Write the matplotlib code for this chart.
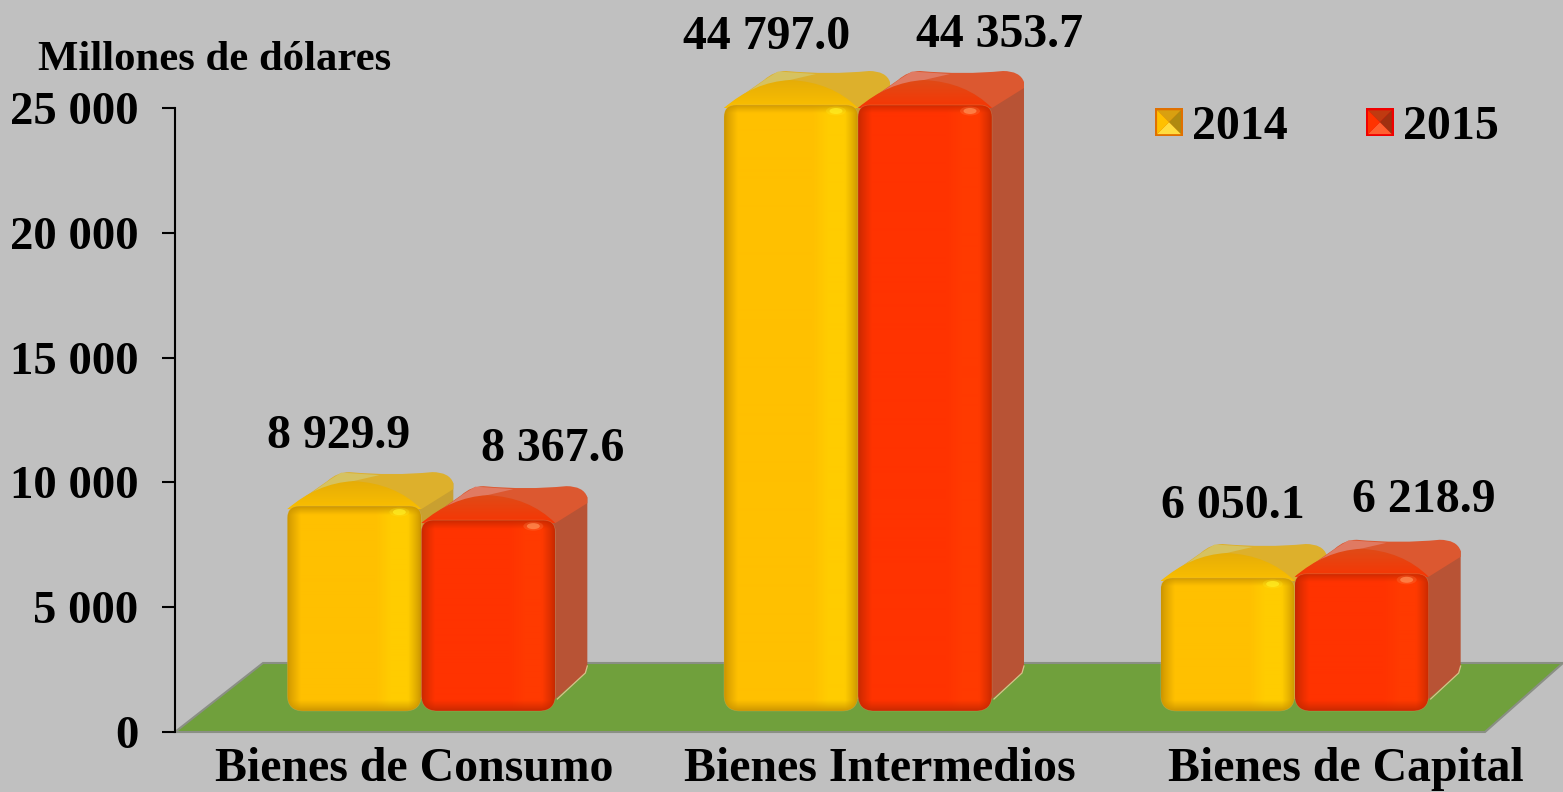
import numpy as np
import matplotlib
matplotlib.use("Agg")
import matplotlib.pyplot as plt
from matplotlib.path import Path
from matplotlib.patches import PathPatch, Polygon, Ellipse
from matplotlib.legend_handler import HandlerBase
from matplotlib.transforms import Affine2D

# ---------- data ----------
categories = ["Bienes de Consumo", "Bienes Intermedios", "Bienes de Capital"]
series_names = ["2014", "2015"]
values_2014 = [8929.9, 44797.0, 6050.1]
values_2015 = [8367.6, 44353.7, 6218.9]
labels_2014 = ["8 929.9", "44 797.0", "6 050.1"]
labels_2015 = ["8 367.6", "44 353.7", "6 218.9"]
y_ticks = [0, 5000, 10000, 15000, 20000, 25000]
y_tick_labels = ["0", "5 000", "10 000", "15 000", "20 000", "25 000"]
y_title = "Millones de dólares"
y_max = 25000

# ---------- style ----------
W, H = 1563, 792
AX_L, AX_R, AX_T, AX_B = 175, 1485, 108, 732
BG = "#C0C0C0"
FLOOR = "#70A03C"
SERIF = "Liberation Serif"
PAL_Y = dict(base=(255, 192, 0), edge=(200, 146, 0), band=(255, 204, 0),
             front_hi=(228, 172, 8), front_lo=(250, 190, 0), left="#D6C260",
             right="#DDB02C", side="#C9A030", shine="#FFEA20")
PAL_R = dict(base=(255, 51, 0), edge=(196, 40, 0), band=(255, 58, 0),
             front_hi=(222, 76, 24), front_lo=(246, 54, 4), left="#E07A62",
             right="#DC5830", side="#B85335", shine="#FF8A50")
label_centers_2014 = [(339, 436), (767, 37), (1233, 506)]
label_centers_2015 = [(553, 449), (1000, 35), (1424, 500)]
cat_label_shift_px = [21, 50, 79]

plt.rcParams["font.family"] = SERIF
plt.rcParams["font.weight"] = "bold"
fig = plt.figure(figsize=(W / 100, H / 100), dpi=100, facecolor=BG)
ax = fig.add_axes([AX_L / W, 1 - AX_B / H, (AX_R - AX_L) / W, (AX_B - AX_T) / H],
                  facecolor="none")
ax.set_xlim(-0.5, 2.5)
ax.set_ylim(0, y_max)
ux = 3.0 / (AX_R - AX_L)          # data units per pixel
uy = y_max / (AX_B - AX_T)
px = Affine2D().scale(1, -1).translate(0, H)  # top-left pixel coords


def rounded(x0, x1, y0, y1, rt, rb):
    xs = [(x0 + rt * ux, y1), (x1 - rt * ux, y1), (x1, y1), (x1, y1 - rt * uy),
          (x1, y0 + rb * uy), (x1, y0), (x1 - rb * ux, y0), (x0 + rb * ux, y0),
          (x0, y0), (x0, y0 + rb * uy), (x0, y1 - rt * uy), (x0, y1),
          (x0 + rt * ux, y1)]
    codes = [Path.MOVETO, Path.LINETO, Path.CURVE3, Path.CURVE3, Path.LINETO,
             Path.CURVE3, Path.CURVE3, Path.LINETO, Path.CURVE3, Path.CURVE3,
             Path.LINETO, Path.CURVE3, Path.CURVE3]
    return Path(xs, codes)


def shade_image(wpx, hpx, pal):
    wpx, hpx = int(wpx), int(hpx)
    xs = np.arange(wpx) + 0.5
    ys = np.arange(hpx) + 0.5
    fx = np.clip(xs / 14, 0, 1) * np.clip((wpx - xs) / 13, 0, 1)
    fy = np.clip(ys / 9, 0, 1) * np.clip((hpx - ys) / 11, 0, 1)
    m = np.outer(fy, fx) ** 0.8
    base = np.array(pal["base"], float)
    band = np.array(pal["band"], float)
    edge = np.array(pal["edge"], float)
    t = np.clip((xs - (wpx - 45)) / 15, 0, 1)[None, :, None]
    col = base * (1 - t) + band * t
    img = edge * (1 - m[..., None]) + col * m[..., None]
    return (img / 255).clip(0, 1)


def draw_bar(x0, value, pal, width, z):
    top = min(value, y_max)
    bottom = 21 * uy
    x1 = x0 + width
    wpx = width / ux

    def rel(a, b):
        return (x0 + a * ux, top + b * uy)

    # side face
    side = [(x1 - 4 * ux, top), (x1 + 32 * ux, top + 26 * uy), (x1 + 32 * ux, bottom + 45 * uy),
            (x1 + 30 * ux, bottom + 38 * uy), (x1, bottom + 12 * uy), (x1 - 4 * ux, bottom + 12 * uy)]
    ax.add_patch(Polygon(side, closed=True, fc=pal["side"], ec="none",
                         zorder=z, clip_on=False))
    ax.plot([x1 + 32 * ux, x1 + 30 * ux, x1 + 2 * ux],
            [bottom + 45 * uy, bottom + 38 * uy, bottom + 12 * uy],
            color="#D8C08A", lw=0.9, zorder=z, clip_on=False)
    # top face outline
    verts = [rel(0, 0), rel(40, 28), rel(50, 37), rel(62, 37), rel(105, 33),
             rel(145, 37), rel(162, 37), rel(166, 26), rel(166, 20), rel(134, 0),
             rel(0, 0)]
    codes = [Path.MOVETO, Path.LINETO, Path.CURVE3, Path.CURVE3, Path.CURVE3,
             Path.CURVE3, Path.CURVE3, Path.CURVE3, Path.LINETO, Path.LINETO,
             Path.CLOSEPOLY]
    ax.add_patch(PathPatch(Path(verts, codes), fc=pal["right"], ec="none",
                           zorder=z + 0.1, clip_on=False))
    ax.add_patch(Polygon([rel(3, 1), rel(42, 29), rel(54, 36.5), rel(92, 34), rel(66, 28)],
                         closed=True, fc=pal["left"], ec="none", zorder=z + 0.15, clip_on=False))
    # curved front facet with a vertical shade
    facet = Path([rel(0, 0), rel(30, 26), rel(66, 28), rel(108, 26), rel(134, 0), rel(0, 0)],
                 [Path.MOVETO, Path.CURVE3, Path.CURVE3, Path.CURVE3, Path.CURVE3, Path.CLOSEPOLY])
    grad = np.linspace(0, 1, 30)[:, None, None]
    arr = np.array(pal["front_hi"], float) * (1 - grad) + np.array(pal["front_lo"], float) * grad
    fim = ax.imshow(arr / 255, extent=(x0, x1, top, top + 30 * uy), origin="upper",
                    aspect="auto", zorder=z + 0.2, interpolation="bilinear")
    fclip = PathPatch(facet, transform=ax.transData, fc="none", ec="none")
    ax.add_patch(fclip)
    fclip.set_clip_on(False)
    fim.set_clip_path(fclip)
    fim.set_clip_box(fig.bbox)
    # rounded front face with shaded fill
    path = rounded(x0, x1, bottom, top + 3 * uy, 12, 16)
    hpx = (top + 3 * uy - bottom) / uy
    im = ax.imshow(shade_image(wpx, hpx, pal), extent=(x0, x1, bottom, top + 3 * uy),
                   origin="upper", aspect="auto", zorder=z + 0.3,
                   interpolation="bilinear")
    clip = PathPatch(path, transform=ax.transData, fc="none", ec="none")
    ax.add_patch(clip)
    clip.set_clip_on(False)
    im.set_clip_path(clip)
    im.set_clip_box(fig.bbox)
    ax.add_patch(PathPatch(path, fc="none", ec="#D8C08A", lw=0.5, alpha=0.3,
                           zorder=z + 0.4, clip_on=False))
    ax.add_patch(Ellipse(rel(wpx - 22, -3), 20 * ux, 9 * uy, fc=pal["shine"], ec="none",
                         alpha=0.25, zorder=z + 0.5, clip_on=False))
    ax.add_patch(Ellipse(rel(wpx - 22, -3), 13 * ux, 6 * uy, fc=pal["shine"], ec="none",
                         alpha=0.8, zorder=z + 0.55, clip_on=False))


# floor
floor_px = [(AX_L, AX_B), (AX_R, AX_B), (1563, 663), (263, 663)]
fig.add_artist(Polygon(floor_px, closed=True, fc=FLOOR, ec="#8A8F84", lw=1.5,
                       transform=px, zorder=-1))

# bars
bar_w = 134 * ux
group_shift = 28 * ux
for i in range(len(categories)):
    left = i + group_shift - bar_w
    draw_bar(left, values_2014[i], PAL_Y, bar_w, 2 + i * 3)
    draw_bar(left + bar_w, values_2015[i], PAL_R, bar_w, 3.5 + i * 3)
ax.set_xlim(-0.5, 2.5)
ax.set_ylim(0, y_max)

# axes
for s in ("top", "right", "bottom"):
    ax.spines[s].set_visible(False)
ax.spines["left"].set_linewidth(1.5)
ax.spines["left"].set_color("#000000")
ax.spines["left"].set_zorder(30)
ax.set_yticks(y_ticks)
ax.set_yticklabels(y_tick_labels, fontsize=33.7, fontweight="bold", family=SERIF)
ax.tick_params(axis="y", length=9.5, width=1.5, pad=17, color="black")
ax.set_xticks([i + s * ux for i, s in enumerate(cat_label_shift_px)])
ax.set_xticklabels(categories, fontsize=34.4, fontweight="bold", family=SERIF)
ax.tick_params(axis="x", length=0, pad=11)

# value labels and title (pixel positions)
for (cx, cy), t in zip(label_centers_2014 + label_centers_2015, labels_2014 + labels_2015):
    fig.text(cx / W, 1 - cy / H, t, ha="center", va="center", fontsize=34.4,
             fontweight="bold", family=SERIF)
fig.text(38 / W, 1 - 60 / H, y_title, ha="left", va="center", fontsize=30.8,
         fontweight="bold", family=SERIF)


# legend
class Pyramid:
    def __init__(self, border, t, l, b, r):
        self.colors = (border, t, l, b, r)


class PyramidHandler(HandlerBase):
    def create_artists(self, legend, orig, xd, yd, width, height, fontsize, trans):
        border, t, l, b, r = orig.colors
        s = width
        x0, y0 = -xd, -yd + (height - s) / 2
        x1, y1 = x0 + s, y0 + s
        i = 1.5
        c = (x0 + s / 2, y0 + s / 2)
        out = [Polygon([(x0, y0), (x1, y0), (x1, y1), (x0, y1)], fc=border, ec="none", transform=trans)]
        for col, p, q in ((t, (x0 + i, y1 - i), (x1 - i, y1 - i)), (r, (x1 - i, y1 - i), (x1 - i, y0 + i)),
                          (b, (x1 - i, y0 + i), (x0 + i, y0 + i)), (l, (x0 + i, y0 + i), (x0 + i, y1 - i))):
            out.append(Polygon([p, q, c], fc=col, ec="none", transform=trans))
        return out


handles = [Pyramid("#E07000", "#D9A010", "#FFC000", "#FFDC40", "#B08A10"),
           Pyramid("#F00000", "#C03A10", "#FF3300", "#FF6030", "#A03010")]
leg = fig.legend(handles, series_names, handler_map={Pyramid: PyramidHandler()}, ncol=2,
                 frameon=False, loc="center left", bbox_to_anchor=(1155 / W, 1 - 127 / H),
                 prop={"family": SERIF, "weight": "bold", "size": 34.5}, borderpad=0,
                 borderaxespad=0, handlelength=0.584, handletextpad=0.188, columnspacing=1.63)

fig.savefig("out.png", dpi=100, facecolor=BG)
